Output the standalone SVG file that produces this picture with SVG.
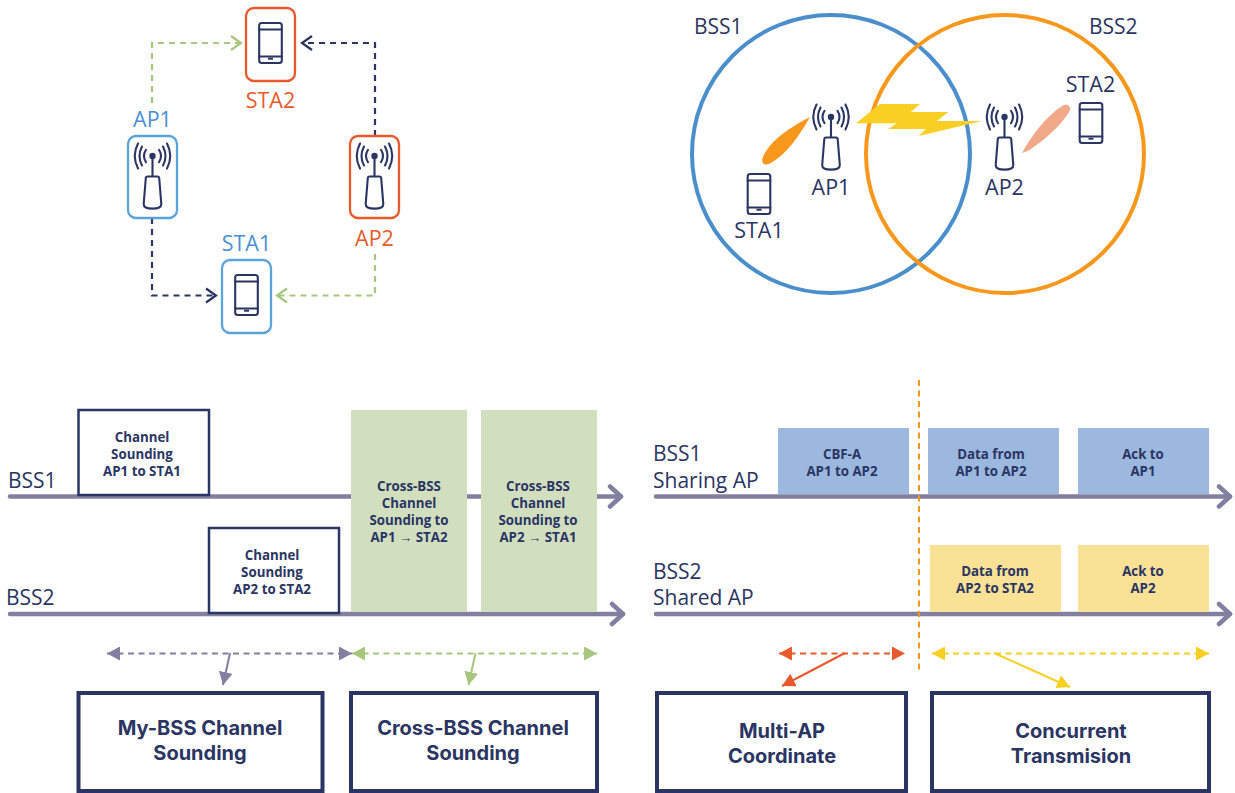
<svg xmlns="http://www.w3.org/2000/svg" width="1235" height="793" viewBox="0 0 1235 793">
<style>
text{font-family:"Open Sans","Liberation Sans",sans-serif}
.lbl{font-size:21.5px;fill:#2a3563;text-anchor:middle}
.lbs{font-size:21px;fill:#2a3563}
.blu{fill:#4a90cf}.red{fill:#e85a2c}
.sm{font-size:13.3px;font-weight:700;fill:#2a3563;text-anchor:middle}
text.big{font-family:Inter,"Liberation Sans",sans-serif;font-size:20px;font-weight:700;fill:#2a3563;text-anchor:middle}
.ic{fill:none;stroke:#2a3563;stroke-width:2.1;stroke-linecap:round;stroke-linejoin:round}
.dev{fill:#fff;stroke-width:2.3}
.tl{fill:none;stroke:#827fa0;stroke-width:4.5;stroke-linecap:round;stroke-linejoin:round}
.cb{fill:#fff;stroke:#2a3563;stroke-width:2.5}
.hb{fill:#fff;stroke:#2a3563;stroke-width:4}
.dash{fill:none;stroke-width:2.2;stroke-dasharray:6 5}
.dd{fill:none;stroke-width:2;stroke-dasharray:6 4.5}
</style>
<defs>
<symbol id="phone" overflow="visible" viewBox="-15 -24 30 48" x="-15" y="-24" width="30" height="48">
<rect class="ic" x="-11.3" y="-20" width="22.6" height="40" rx="2.5"/>
<path class="ic" d="M-11.3-13.5H11.3M-11.3 13.5H11.3"/>
<path d="M-2.5 15.7H2.5" stroke="#2a3563" stroke-width="2"/>
</symbol>
<symbol id="ap" overflow="visible" viewBox="-20 -14 40 70" x="-20" y="-14" width="40" height="70">
<circle cx="0" cy="0" r="3.200" fill="#2a3563"/>
<path class="ic" d="M0 0V20.500M-5 20.500H5Q6.500 20.500 6.700 22L8.800 48Q9 52.600 0 52.600Q-9 52.600 -8.800 48L-6.700 22Q-6.500 20.500 -5 20.500Z"/>
<path class="ic" d="M-6.500-6.200Q-10.500 0 -6.500 6.200M6.500-6.200Q10.500 0 6.500 6.200M-10.500-9.500Q-15.500 0 -10.500 9.500M10.500-9.500Q15.500 0 10.500 9.500M-14.500-12.500Q-21 0 -14.500 12.500M14.500-12.500Q21 0 14.500 12.500"/>
</symbol>
<marker id="cg" markerUnits="userSpaceOnUse" viewBox="0 0 14 18" refX="12" refY="9" markerWidth="14" markerHeight="18" orient="auto"><path d="M2 2L12 9L2 16" fill="none" stroke="#a7c77e" stroke-width="2.2"/></marker>
<marker id="cn" markerUnits="userSpaceOnUse" viewBox="0 0 14 18" refX="12" refY="9" markerWidth="14" markerHeight="18" orient="auto"><path d="M2 2L12 9L2 16" fill="none" stroke="#2a3563" stroke-width="2.2"/></marker>
<marker id="ct" markerUnits="userSpaceOnUse" viewBox="0 0 18 26" refX="15" refY="13" markerWidth="18" markerHeight="26" orient="auto"><path d="M4 3L15 13L4 23" fill="none" stroke="#827fa0" stroke-width="4.500" stroke-linecap="round" stroke-linejoin="round"/></marker>
<marker id="tp" markerUnits="userSpaceOnUse" viewBox="0 0 14 14" refX="13" refY="7" markerWidth="14" markerHeight="14" orient="auto-start-reverse"><path d="M0 0L13 7L0 14Z" fill="#827fa0"/></marker>
<marker id="tg" markerUnits="userSpaceOnUse" viewBox="0 0 14 14" refX="13" refY="7" markerWidth="14" markerHeight="14" orient="auto-start-reverse"><path d="M0 0L13 7L0 14Z" fill="#a7c77e"/></marker>
<marker id="tr" markerUnits="userSpaceOnUse" viewBox="0 0 14 14" refX="13" refY="7" markerWidth="14" markerHeight="14" orient="auto-start-reverse"><path d="M0 0L13 7L0 14Z" fill="#e85a2c"/></marker>
<marker id="ty" markerUnits="userSpaceOnUse" viewBox="0 0 14 14" refX="13" refY="7" markerWidth="14" markerHeight="14" orient="auto-start-reverse"><path d="M0 0L13 7L0 14Z" fill="#f8cf22"/></marker>
</defs>

<g id="connectors-top">
<path class="dash" stroke="#a7c77e" d="M152 103V43H241" marker-end="url(#cg)"/>
<path class="dash" stroke="#2a3563" d="M375 136V43H302" marker-end="url(#cn)"/>
<path class="dash" stroke="#2a3563" d="M152 218V295.500H216" marker-end="url(#cn)"/>
<path class="dash" stroke="#a7c77e" d="M375 254V295.500H277" marker-end="url(#cg)"/>
</g>
<g id="node-sta2"><rect class="dev" stroke="#e85a2c" x="246" y="8" width="49" height="73" rx="8"/><use href="#phone" transform="translate(270.500 43)"/><text class="lbl red" x="270.500" y="108">STA2</text></g>
<g id="node-ap1"><rect class="dev" stroke="#5aa3db" x="128" y="136" width="49" height="82" rx="8"/><use href="#ap" transform="translate(152.500 156)"/><text class="lbl blu" x="152.500" y="127">AP1</text></g>
<g id="node-ap2"><rect class="dev" stroke="#e85a2c" x="350" y="136" width="49" height="82" rx="8"/><use href="#ap" transform="translate(374.500 156)"/><text class="lbl red" x="374.500" y="246">AP2</text></g>
<g id="node-sta1"><rect class="dev" stroke="#5aa3db" x="222" y="260" width="49" height="73" rx="8"/><use href="#phone" transform="translate(246.500 295)"/><text class="lbl blu" x="246.500" y="251">STA1</text></g>

<g id="bss-circles">
<circle cx="831" cy="154" r="139" fill="none" stroke="#4a8fcc" stroke-width="4"/>
<circle cx="1005" cy="154" r="139" fill="none" stroke="#f7981d" stroke-width="4"/>
<text class="lbs" x="694" y="34">BSS1</text>
<text class="lbs" x="1089" y="34">BSS2</text>
</g>
<g id="beams">
<path fill="#f7981d" d="M810 117C798 123 778 135 769 147C763 155 761 160 763 163C765 166 770 164 774 161C785 154 797 140 810 117Z"/>
<path fill="#f2a98a" d="M1022 153C1030 138 1045 117 1062 106C1067 103 1071 106 1070 110C1066 119 1050 136 1035 146C1030 150 1026 152 1022 153Z"/>
<path fill="#f8cf22" d="M856 123.300L880 104H920L910.700 112H948.300L936.700 121H981.700L918.700 136L926 129H888.300L896.700 123.300Z"/>
</g>
<g id="node-top-ap1"><use href="#ap" transform="translate(831 117)"/><text class="lbl" x="831" y="195">AP1</text></g>
<g id="node-top-ap2"><use href="#ap" transform="translate(1004.500 117)"/><text class="lbl" x="1004.500" y="195">AP2</text></g>
<g id="node-top-sta1"><use href="#phone" transform="translate(759 194)"/><text class="lbl" x="759" y="238">STA1</text></g>
<g id="node-top-sta2"><use href="#phone" transform="translate(1091 123)"/><text class="lbl" x="1090.500" y="92">STA2</text></g>

<g id="timeline-left">
<path class="tl" d="M10 496.500H621" marker-end="url(#ct)"/>
<path class="tl" d="M10 614H623" marker-end="url(#ct)"/>
<text class="lbs" x="8" y="488">BSS1</text>
<text class="lbs" x="6" y="605">BSS2</text>
</g>
<g id="node-cs1"><rect class="cb" x="78.500" y="410" width="130.500" height="85"/><text class="sm" x="142" y="442">Channel</text><text class="sm" x="142" y="459">Sounding</text><text class="sm" x="142" y="476">AP1 to STA1</text></g>
<g id="node-cs2"><rect class="cb" x="209" y="528" width="130" height="85"/><text class="sm" x="272" y="560">Channel</text><text class="sm" x="272" y="577">Sounding</text><text class="sm" x="272" y="594">AP2 to STA2</text></g>
<g id="node-cross1"><rect fill="#d2dfbf" x="351" y="410" width="116" height="202"/><text class="sm" x="409" y="491">Cross-BSS</text><text class="sm" x="409" y="508">Channel</text><text class="sm" x="409" y="525">Sounding to</text><text class="sm" x="409" y="542">AP1 → STA2</text></g>
<g id="node-cross2"><rect fill="#d2dfbf" x="481" y="410" width="116" height="202"/><text class="sm" x="538" y="491">Cross-BSS</text><text class="sm" x="538" y="508">Channel</text><text class="sm" x="538" y="525">Sounding to</text><text class="sm" x="538" y="542">AP2 → STA1</text></g>

<g id="timeline-right">
<path class="tl" d="M656 496.500H1230" marker-end="url(#ct)"/>
<path class="tl" d="M656 614H1230" marker-end="url(#ct)"/>
<text class="lbs" x="653" y="461">BSS1</text>
<text class="lbs" x="653" y="488">Sharing AP</text>
<text class="lbs" x="653" y="579">BSS2</text>
<text class="lbs" x="653" y="605">Shared AP</text>
</g>
<g id="node-cbf"><rect fill="#9db8df" x="778" y="428" width="131" height="66"/><text class="sm" x="842" y="459">CBF-A</text><text class="sm" x="842" y="476">AP1 to AP2</text></g>
<g id="node-data1"><rect fill="#9db8df" x="928" y="428" width="131" height="66"/><text class="sm" x="991" y="459">Data from</text><text class="sm" x="991" y="476">AP1 to AP2</text></g>
<g id="node-ack1"><rect fill="#9db8df" x="1078" y="428" width="131" height="66"/><text class="sm" x="1143" y="459">Ack to</text><text class="sm" x="1143" y="476">AP1</text></g>
<g id="node-data2"><rect fill="#f9e196" x="930" y="545" width="131" height="67"/><text class="sm" x="995" y="576">Data from</text><text class="sm" x="995" y="593">AP2 to STA2</text></g>
<g id="node-ack2"><rect fill="#f9e196" x="1078" y="545" width="131" height="67"/><text class="sm" x="1143" y="576">Ack to</text><text class="sm" x="1143" y="593">AP2</text></g>
<path id="divider" d="M919 380V672" fill="none" stroke="#f7981d" stroke-width="2" stroke-dasharray="6 4.500"/>

<g id="connectors-bottom">
<path class="dd" stroke="#827fa0" d="M107 653.500H352" marker-start="url(#tp)" marker-end="url(#tp)"/>
<path class="dd" stroke="#a7c77e" d="M352 653.500H597" marker-start="url(#tg)" marker-end="url(#tg)"/>
<path class="dd" stroke="#e85a2c" d="M779 653.500H905" marker-start="url(#tr)" marker-end="url(#tr)"/>
<path class="dd" stroke="#f8cf22" d="M932 653.500H1209" marker-start="url(#ty)" marker-end="url(#ty)"/>
<path fill="none" stroke="#827fa0" stroke-width="2" d="M230 653L223 685" marker-end="url(#tp)"/>
<path fill="none" stroke="#a7c77e" stroke-width="2" d="M475.500 653L468.500 685" marker-end="url(#tg)"/>
<path fill="none" stroke="#e85a2c" stroke-width="2" d="M845 653L782 686" marker-end="url(#tr)"/>
<path fill="none" stroke="#f8cf22" stroke-width="2" d="M994 653L1070 687" marker-end="url(#ty)"/>
</g>
<g id="node-mybss"><rect class="hb" x="78.500" y="693" width="244" height="98"/><text class="big" x="200" y="735">My-BSS Channel</text><text class="big" x="200" y="760">Sounding</text></g>
<g id="node-crossbss"><rect class="hb" x="351" y="693" width="246" height="98"/><text class="big" x="473" y="735">Cross-BSS Channel</text><text class="big" x="473" y="760">Sounding</text></g>
<g id="node-multiap"><rect class="hb" x="657" y="693" width="249" height="98"/><text class="big" x="782" y="738">Multi-AP</text><text class="big" x="782" y="763">Coordinate</text></g>
<g id="node-concurrent"><rect class="hb" x="932" y="693" width="277" height="98"/><text class="big" x="1071" y="738">Concurrent</text><text class="big" x="1071" y="763">Transmision</text></g>
</svg>
